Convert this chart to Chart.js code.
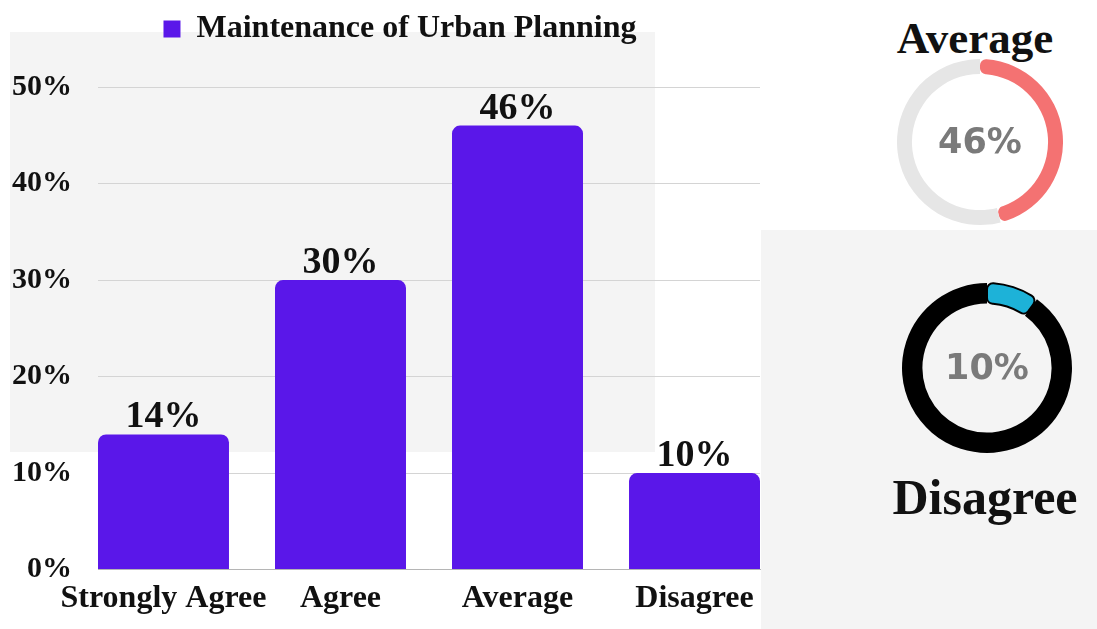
<!DOCTYPE html>
<html lang="en">
<head>
<meta charset="UTF-8">
<title>Maintenance of Urban Planning</title>
<script src="https://cdn.jsdelivr.net/npm/chart.js@4"></script>
<style>
    body {
        margin: 0;
        width: 1097px;
        height: 629px;
        overflow: hidden;
        background: #ffffff;
        position: relative;
        font-family: 'Liberation Serif', 'Times New Roman', serif;
    }
    .panel {
        position: absolute;
        background: #f4f4f4;
    }
    #barWrap { position: absolute; left: 0; top: 0; width: 800px; height: 629px; }
    .ring { position: absolute; }
    .ring-title {
        position: absolute;
        font-weight: bold;
        color: #111;
        text-align: center;
        white-space: nowrap;
    }
</style>
</head>
<body>

<div class="panel" style="left:10px; top:32px; width:645px; height:420px;"></div>
<div class="panel" style="left:761px; top:230px; width:336px; height:399px;"></div>

<div id="barWrap"><canvas id="barChart"></canvas></div>

<div class="ring-title" style="left:875px; top:10px; width:200px; font-size:45px; line-height:56px;">Average</div>
<div class="ring" style="left:897px; top:59px; width:166px; height:166px;"><canvas id="avgRing"></canvas></div>

<div class="ring" style="left:901px; top:282px; width:172px; height:172px;"><canvas id="disRing"></canvas></div>
<div class="ring-title" style="left:885px; top:466px; width:200px; font-size:50px; line-height:62px;">Disagree</div>

<script>
const categories = ['Strongly Agree', 'Agree', 'Average', 'Disagree'];
const shares = [14, 30, 46, 10];
const yTicks = [0, 10, 20, 30, 40, 50];
const seriesName = 'Maintenance of Urban Planning';

const ringAverage = [46, 54];
const ringDisagree = [10, 90];

const serif = "'Liberation Serif', 'Times New Roman', serif";

// value labels above each bar
const barValueLabels = {
    id: 'barValueLabels',
    afterDatasetsDraw(chart) {
        const ctx = chart.ctx;
        const meta = chart.getDatasetMeta(0);
        ctx.save();
        ctx.font = 'bold 38px ' + serif;
        ctx.fillStyle = '#111';
        ctx.textAlign = 'center';
        ctx.textBaseline = 'alphabetic';
        meta.data.forEach((bar, i) => {
            ctx.fillText(shares[i] + '%', bar.x, bar.y - 7);
        });
        ctx.restore();
    }
};

// extra room under the legend, and legend nudged right
const legendGap = {
    id: 'legendGap',
    beforeInit(chart) {
        const fit = chart.legend.fit;
        chart.legend.fit = function () {
            fit.bind(chart.legend)();
            this.height += 32;
        };
    },
    afterLayout(chart) {
        chart.legend.left += 20;
        chart.legend.right += 20;
    }
};

new Chart(document.getElementById('barChart'), {
    type: 'bar',
    data: {
        datasets: [{
            label: seriesName,
            data: categories.map((c, i) => ({ x: i, y: shares[i] })),
            backgroundColor: '#5a17e9',
            borderRadius: { topLeft: 8, topRight: 8, bottomLeft: 0, bottomRight: 0 },
            borderSkipped: false,
            barPercentage: 0.74,
            categoryPercentage: 1
        }]
    },
    options: {
        responsive: true,
        maintainAspectRatio: false,
        animation: false,
        layout: { padding: { top: 3, left: 0, right: 40, bottom: 1 } },
        plugins: {
            tooltip: { enabled: false },
            legend: {
                labels: {
                    boxWidth: 17,
                    boxHeight: 17,
                    padding: 10,
                    color: '#111',
                    font: { family: serif, size: 32, weight: 'bold' }
                }
            }
        },
        scales: {
            x: {
                type: 'linear',
                offset: false,
                min: -0.37,
                max: 3.37,
                grid: { display: false, drawTicks: false },
                border: { display: true, color: '#b5b5b5' },
                ticks: {
                    stepSize: 1,
                    includeBounds: false,
                    autoSkip: false,
                    maxRotation: 0,
                    padding: 10,
                    color: '#111',
                    font: { family: serif, size: 32, weight: 'bold' },
                    callback: v => categories[v] ?? ''
                }
            },
            y: {
                min: yTicks[0],
                max: yTicks[yTicks.length - 1],
                afterFit(scale) { scale.width = 98; },
                grid: { color: '#d4d4d4', drawTicks: false },
                border: { display: false },
                ticks: {
                    stepSize: 10,
                    padding: 26,
                    color: '#111',
                    font: { family: serif, size: 30, weight: 'bold' },
                    callback: v => v + '%'
                }
            }
        }
    },
    plugins: [barValueLabels, legendGap]
});

// percentage printed in the middle of a ring
const ringCenter = {
    id: 'ringCenter',
    afterDraw(chart, args, opts) {
        const ctx = chart.ctx;
        const arc = chart.getDatasetMeta(0).data[0];
        ctx.save();
        ctx.font = 'bold 35px "DejaVu Sans", sans-serif';
        ctx.fillStyle = '#7a7a7a';
        ctx.textAlign = 'center';
        ctx.textBaseline = 'middle';
        ctx.fillText(opts.text, arc.x, arc.y + 2);
        ctx.restore();
    }
};

function makeRing(id, values, colors, cutout, label, edge) {
    new Chart(document.getElementById(id), {
        type: 'doughnut',
        data: {
            datasets: [{
                data: values,
                backgroundColor: colors,
                borderWidth: [edge, 0],
                borderColor: colors[1],
                borderRadius: [6, 0]
            }]
        },
        options: {
            responsive: true,
            maintainAspectRatio: false,
            animation: false,
            cutout: cutout,
            plugins: {
                legend: { display: false },
                tooltip: { enabled: false },
                ringCenter: { text: label }
            }
        },
        plugins: [ringCenter]
    });
}

makeRing('avgRing', ringAverage, ['#f47272', '#e6e6e6'], '82%', ringAverage[0] + '%', 0);
makeRing('disRing', ringDisagree, ['#1db2d8', '#000000'], '76%', ringDisagree[0] + '%', 2);
</script>
</body>
</html>
